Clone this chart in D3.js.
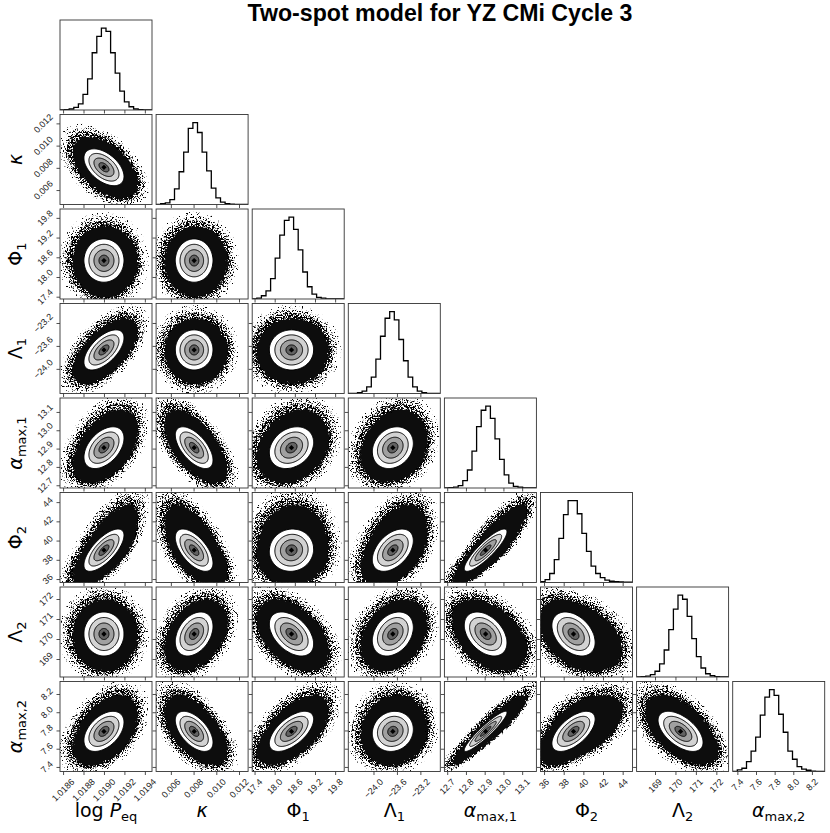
<!DOCTYPE html>
<html>
<head>
<meta charset="utf-8">
<script src="https://d3js.org/d3.v7.min.js"></script>
<style>
body { margin: 0; background: #fff; }
svg { display: block; }
.ticklab { font-family: "Liberation Sans", Arial, sans-serif; font-size: 9px; fill: #222; }
.axlab { font-family: "DejaVu Sans", sans-serif; font-size: 19px; fill: #000; }
</style>
</head>
<body>
<div id="corner"></div>
<script>
// parameter ranges
var param_lo = [1.01857, 0.0047, 17.33, -24.43, 12.685, 35.64, 168.1, 7.35];
var param_hi = [1.01947, 0.0128, 20.07, -22.86, 13.176, 45.0, 172.6, 8.337];
// posterior centre / width
var post_mean = [1.01900, 0.00805, 18.50, -23.67, 12.905, 39.0, 170.25, 7.79];
var post_sd = [0.000098, 0.00083, 0.33, 0.175, 0.057, 1.1, 0.55, 0.11];
// stretch of the point cloud on the high side (Phi_2 has a long tail)
var tail_pos = [1.0, 1.05, 1.0, 1.0, 1.15, 1.35, 1.0, 1.15];

// correlations, lower triangle, row param vs column param
var corr_rows = [
  [],
  [-0.5],
  [0.0, 0.0],
  [0.6, 0.0, 0.0],
  [0.45, -0.6, 0.25, 0.2],
  [0.7, -0.6, 0.05, 0.45, 0.87],
  [0.0, 0.35, -0.45, 0.3, -0.4, -0.38],
  [0.45, -0.55, 0.6, 0.1, 0.93, 0.6, -0.55]
];

// 1D histograms, 20 bins over [lo, hi], relative counts
var hist_logP   = [0, 0.005, 0.012, 0.033, 0.074, 0.19, 0.38, 0.7, 0.9, 1.0, 0.96, 0.7, 0.45, 0.23, 0.1, 0.04, 0.012, 0.004, 0, 0];
var hist_kappa  = [0, 0.01, 0.02, 0.06, 0.19, 0.4, 0.64, 0.93, 1.0, 0.88, 0.64, 0.41, 0.2, 0.08, 0.03, 0.01, 0.004, 0, 0, 0];
var hist_phi1   = [0, 0.01, 0.04, 0.1, 0.25, 0.5, 0.78, 0.96, 1.0, 0.85, 0.6, 0.33, 0.15, 0.06, 0.02, 0.01, 0, 0, 0, 0];
var hist_lam1   = [0, 0, 0.01, 0.03, 0.08, 0.2, 0.42, 0.7, 0.92, 1.0, 0.9, 0.66, 0.4, 0.2, 0.08, 0.03, 0.01, 0, 0, 0];
var hist_amax1  = [0, 0.005, 0.01, 0.03, 0.09, 0.22, 0.45, 0.75, 0.95, 1.0, 0.85, 0.6, 0.35, 0.16, 0.06, 0.02, 0.01, 0, 0, 0];
var hist_phi2   = [0.01, 0.035, 0.11, 0.28, 0.54, 0.83, 1.0, 1.0, 0.84, 0.6, 0.38, 0.2, 0.11, 0.06, 0.03, 0.015, 0.01, 0.006, 0.004, 0.003];
var hist_lam2   = [0, 0.005, 0.01, 0.03, 0.07, 0.16, 0.33, 0.58, 0.83, 1.0, 0.95, 0.74, 0.47, 0.25, 0.11, 0.04, 0.015, 0.005, 0, 0];
var hist_amax2  = [0, 0.02, 0.04, 0.12, 0.25, 0.42, 0.69, 0.91, 1.0, 0.93, 0.7, 0.48, 0.25, 0.15, 0.06, 0.03, 0.015, 0.005, 0, 0];

var ticks_logP  = [1.0186, 1.0188, 1.0190, 1.0192, 1.0194];
var ticks_kappa = [0.006, 0.008, 0.010, 0.012];
var ticks_phi1  = [17.4, 18.0, 18.6, 19.2, 19.8];
var ticks_lam1  = [-24.0, -23.6, -23.2];
var ticks_amax1 = [12.7, 12.8, 12.9, 13.0, 13.1];
var ticks_phi2  = [36, 38, 40, 42, 44];
var ticks_lam2  = [169, 170, 171, 172];
var ticks_amax2 = [7.4, 7.6, 7.8, 8.0, 8.2];
var tick_fmt = [".4f", ".3f", ".1f", ".1f", ".1f", "d", "d", ".1f"];

var label_parts = [
  [["log ", ""], ["P", "it"], ["eq", "sub"]],
  [["κ", "it"]],
  [["Φ", ""], ["1", "sub"]],
  [["Λ", ""], ["1", "sub"]],
  [["α", "it"], ["max,1", "sub"]],
  [["Φ", ""], ["2", "sub"]],
  [["Λ", ""], ["2", "sub"]],
  [["α", "it"], ["max,2", "sub"]]
];
var title_text = "Two-spot model for YZ CMi Cycle 3";

var hists = [hist_logP, hist_kappa, hist_phi1, hist_lam1, hist_amax1, hist_phi2, hist_lam2, hist_amax2];
var ticks = [ticks_logP, ticks_kappa, ticks_phi1, ticks_lam1, ticks_amax1, ticks_phi2, ticks_lam2, ticks_amax2];

var n = 8,
    width = 830, height = 833,
    x0 = 60, col_step = 96.1, pw = 92,
    y0 = 20, row_step = 94.5, ph = 90;

function colX(j) { return x0 + j * col_step; }
function rowY(i) { return y0 + i * row_step; }

var svg = d3.select("#corner").append("svg")
    .attr("width", width)
    .attr("height", height);
var defs = svg.append("defs");

// speckle filters for the scattered samples at the cloud edge
function speck(id, slope, offset, seed) {
  var f = defs.append("filter").attr("id", id)
      .attr("x", "-20%").attr("y", "-20%").attr("width", "140%").attr("height", "140%");
  f.append("feTurbulence").attr("type", "fractalNoise").attr("baseFrequency", 0.8)
      .attr("numOctaves", 2).attr("seed", seed).attr("result", "noise");
  f.append("feColorMatrix").attr("in", "noise").attr("type", "matrix")
      .attr("values", "0 0 0 0 0  0 0 0 0 0  0 0 0 0 0  " + slope + " 0 0 0 " + offset)
      .attr("result", "mask");
  f.append("feComposite").attr("in", "SourceGraphic").attr("in2", "mask").attr("operator", "in");
}
// [radius, filter id] layers of the sample cloud, outermost first
var cloud_layers = [[4.5, "speck_a"], [4.1, "speck_b"], [3.7, "speck_c"], [3.3, "rough"]];
speck("speck_a", 14, -9.0, 3);
speck("speck_b", 14, -8.0, 7);
speck("speck_c", 14, -6.6, 11);

var rough = defs.append("filter").attr("id", "rough")
    .attr("x", "-20%").attr("y", "-20%").attr("width", "140%").attr("height", "140%");
rough.append("feTurbulence").attr("type", "turbulence").attr("baseFrequency", 0.3)
    .attr("numOctaves", 2).attr("seed", 2).attr("result", "t");
rough.append("feDisplacementMap").attr("in", "SourceGraphic").attr("in2", "t")
    .attr("scale", 5).attr("xChannelSelector", "R").attr("yChannelSelector", "G");

var xs = [], ys = [];
for (var k = 0; k < n; k++) {
  xs.push(d3.scaleLinear().domain([param_lo[k], param_hi[k]]).range([colX(k), colX(k) + pw]));
  ys.push(d3.scaleLinear().domain([param_lo[k], param_hi[k]]).range([rowY(k) + ph, rowY(k)]));
}

var line = d3.line();

function ellipsePath(i, j, r, skew) {
  var rho = corr_rows[i][j], c = Math.sqrt(1 - rho * rho);
  var pts = d3.range(120).map(function(s) {
    var t = 2 * Math.PI * s / 120, u = Math.cos(t), v = Math.sin(t);
    var dx = r * u, dy = r * (rho * u + c * v);
    if (skew) {
      if (dx > 0) dx *= tail_pos[j];
      if (dy > 0) dy *= tail_pos[i];
    }
    return [xs[j](post_mean[j] + post_sd[j] * dx), ys[i](post_mean[i] + post_sd[i] * dy)];
  });
  return line.curve(d3.curveLinearClosed)(pts);
}

var contour_fill = [[2, "#ffffff"], [1.5, "#d3d3d3"], [1, "#a0a0a0"], [0.5, "#626262"]];

for (var i = 0; i < n; i++) {
  for (var j = 0; j <= i; j++) {
    var px = colX(j), py = rowY(i);
    var cid = "clip_" + i + "_" + j;
    defs.append("clipPath").attr("id", cid)
      .append("rect").attr("x", px).attr("y", py).attr("width", pw).attr("height", ph);
    var g = svg.append("g").attr("clip-path", "url(#" + cid + ")");

    if (i === j) {
      var h = hists[i];
      var hy = d3.scaleLinear().domain([0, 1.1 * d3.max(h)]).range([py + ph, py]);
      var edge = function(b) { return param_lo[i] + b * (param_hi[i] - param_lo[i]) / h.length; };
      var pts = [[xs[i](edge(0)), hy(0)]];
      h.forEach(function(cnt, b) {
        pts.push([xs[i](edge(b)), hy(cnt)]);
        pts.push([xs[i](edge(b + 1)), hy(cnt)]);
      });
      pts.push([xs[i](edge(h.length)), hy(0)]);
      g.append("path")
        .attr("d", line.curve(d3.curveLinear)(pts))
        .style("fill", "none").style("stroke", "#000").style("stroke-width", 1.3);
    } else {
      cloud_layers.forEach(function(cl) {
        g.append("path").attr("d", ellipsePath(i, j, cl[0], true))
          .style("fill", cl[1] === "rough" ? "#0b0b0b" : "#000")
          .attr("filter", "url(#" + cl[1] + ")");
      });
      contour_fill.forEach(function(cf) {
        g.append("path").attr("d", ellipsePath(i, j, cf[0], false)).style("fill", cf[1]);
      });
      contour_fill.forEach(function(cf) {
        g.append("path").attr("d", ellipsePath(i, j, cf[0], false))
          .style("fill", "none").style("stroke", "#000").style("stroke-width", 1);
      });
      g.append("path")
        .attr("d", d3.symbol().type(d3.symbolSquare).size(14)())
        .attr("transform", "translate(" + xs[j](post_mean[j]) + "," + ys[i](post_mean[i]) + ") rotate(45)")
        .style("fill", "#000");
    }

    // ticks
    var ax = svg.append("g")
      .attr("transform", "translate(0," + (py + ph) + ")")
      .call(d3.axisBottom(xs[j]).tickValues(ticks[j]).tickSize(3.5).tickSizeOuter(0).tickFormat(""));
    ax.select(".domain").remove();
    ax.selectAll("line").style("stroke", "#222").style("stroke-width", 0.8);
    if (i !== j) {
      var ay = svg.append("g")
        .attr("transform", "translate(" + px + ",0)")
        .call(d3.axisLeft(ys[i]).tickValues(ticks[i]).tickSize(3.5).tickSizeOuter(0).tickFormat(""));
      ay.select(".domain").remove();
      ay.selectAll("line").style("stroke", "#222").style("stroke-width", 0.8);
    }

    svg.append("rect")
      .attr("x", px).attr("y", py).attr("width", pw).attr("height", ph)
      .style("fill", "none").style("stroke", "#333").style("stroke-width", 0.9);
  }
}

// rotated tick labels, bottom row and first column
var bottom = rowY(n - 1) + ph;
for (var j = 0; j < n; j++) {
  var f = d3.format(tick_fmt[j]);
  ticks[j].forEach(function(t) {
    var txt = svg.append("text").attr("class", "ticklab")
      .attr("text-anchor", "middle").attr("dy", "0.35em").text(f(t));
    var half = (txt.node().getComputedTextLength() + 6.5) * 0.7071 / 2;
    txt.attr("transform", "translate(" + xs[j](t) + "," + (bottom + 6.5 + half) + ") rotate(-45)");
  });
}
for (var i = 1; i < n; i++) {
  var f = d3.format(tick_fmt[i]);
  ticks[i].forEach(function(t) {
    var txt = svg.append("text").attr("class", "ticklab")
      .attr("text-anchor", "middle").attr("dy", "0.35em").text(f(t));
    var half = (txt.node().getComputedTextLength() + 6.5) * 0.7071 / 2;
    txt.attr("transform", "translate(" + (colX(0) - 6.5 - half) + "," + ys[i](t) + ") rotate(-45)");
  });
}

function mathLabel(sel, parts) {
  parts.forEach(function(p) {
    var ts = sel.append("tspan").text(p[0]);
    if (p[1] === "it") ts.style("font-style", "italic");
    if (p[1] === "sub") ts.attr("font-size", "13px").attr("dy", 4);
  });
}

for (var j = 0; j < n; j++) {
  var t = svg.append("text").attr("class", "axlab").attr("text-anchor", "middle")
    .attr("x", colX(j) + pw / 2).attr("y", 817);
  mathLabel(t, label_parts[j]);
}
for (var i = 1; i < n; i++) {
  var t = svg.append("text").attr("class", "axlab").attr("text-anchor", "middle")
    .attr("transform", "translate(22," + (rowY(i) + ph / 2) + ") rotate(-90)");
  mathLabel(t, label_parts[i]);
}

// title, sized to the reference width
var title = svg.append("text")
  .attr("x", 440).attr("y", 21).attr("text-anchor", "middle")
  .style("font-family", "'Liberation Sans', Arial, sans-serif")
  .style("font-weight", "bold").style("font-size", "20px")
  .text(title_text);
var tl = title.node().getComputedTextLength();
title.style("font-size", (20 * 385 / tl).toFixed(2) + "px");
</script>
</body>
</html>
